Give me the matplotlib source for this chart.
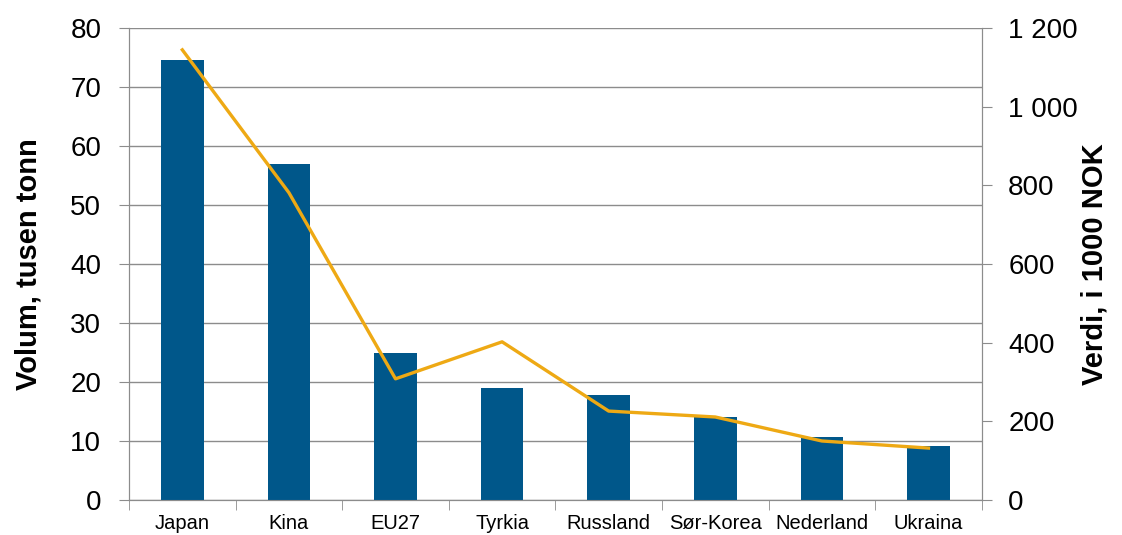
import matplotlib
matplotlib.use("Agg")
import matplotlib.pyplot as plt
import numpy as np
from matplotlib.ticker import FuncFormatter

plt.rcParams['font.family'] = ['Liberation Sans', 'DejaVu Sans']

# data
countries = ['Japan', 'Kina', 'EU27', 'Tyrkia', 'Russland', 'Sør-Korea',
             'Nederland', 'Ukraina']
volume = [74.6, 56.9, 24.9, 19.0, 17.8, 14.1, 10.7, 9.2]       # tusen tonn
value = [1144, 781, 308, 402, 226, 211, 150, 132]              # 1000 NOK

bar_color = '#00578A'
line_color = '#EEA914'
grid_color = '#8C8C8C'

fig = plt.figure(figsize=(11.22, 5.35), dpi=100)
ax = fig.add_axes([0.115, 0.0654, 0.76, 0.8826])
x = np.arange(len(countries))

ax.bar(x, volume, width=0.4, color=bar_color, zorder=3)
ax.set_xlim(-0.5, len(countries) - 0.5)
ax.set_ylim(0, 80)
ax.set_yticks(np.arange(0, 81, 10))
ax.yaxis.grid(True, color=grid_color, lw=1, zorder=0)
ax.set_axisbelow(True)

# category labels centred, tick marks on category boundaries
ax.set_xticks(x)
ax.set_xticklabels(countries, fontsize=14.5)
ax.set_xticks(np.arange(-0.5, len(countries)), minor=True)
ax.tick_params(axis='x', which='major', length=0, pad=10)
ax.tick_params(axis='x', which='minor', length=7, color=grid_color)
ax.tick_params(axis='y', labelsize=20, length=7, color=grid_color, pad=13)

for side in ['left', 'bottom', 'right']:
    ax.spines[side].set_color(grid_color)
ax.spines['top'].set_visible(False)

ax.set_ylabel('Volum, tusen tonn', fontsize=21, fontweight='bold', labelpad=20)

ax2 = ax.twinx()
ax2.plot(x, value, color=line_color, lw=2.4, zorder=4)
ax2.set_ylim(0, 1200)
ax2.set_yticks(np.arange(0, 1201, 200))
ax2.yaxis.set_major_formatter(FuncFormatter(lambda v, p: f'{int(v):,}'.replace(',', ' ')))
ax2.tick_params(axis='y', labelsize=20, length=7, color=grid_color, pad=12)
for side in ['left', 'bottom', 'right']:
    ax2.spines[side].set_color(grid_color)
ax2.spines['top'].set_visible(False)
ax2.set_ylabel('Verdi, i 1000 NOK', fontsize=21, fontweight='bold', labelpad=2)

fig.savefig('out.png', dpi=100)
